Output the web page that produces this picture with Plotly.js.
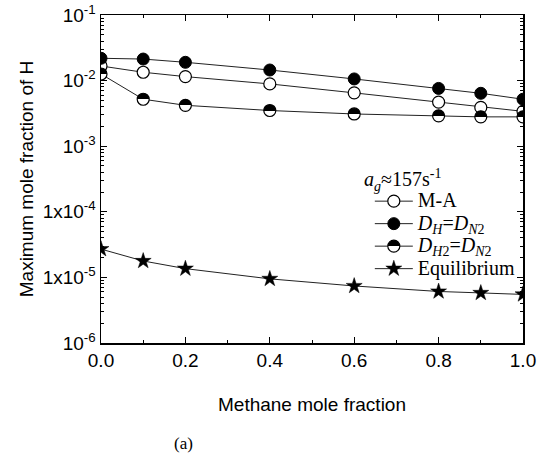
<!DOCTYPE html>
<html><head><meta charset="utf-8">
<script src="https://cdn.plot.ly/plotly-3.0.1.min.js"></script>
<style>body{margin:0;background:#fff}</style></head><body>
<div id="chart" style="width:539px;height:463px"></div>
<script>
const methaneFraction = [0, 0.1, 0.2, 0.4, 0.6, 0.8, 0.9, 1.0];
const maValues = [0.0167, 0.0134, 0.0115, 0.0089, 0.0065, 0.0047, 0.0039, 0.0034];
const dhDn2Values = [0.0219, 0.0213, 0.0190, 0.0145, 0.0106, 0.0076, 0.0064, 0.0052];
const dh2Dn2Values = [0.0126, 0.0052, 0.0042, 0.0035, 0.0031, 0.0029, 0.0028, 0.0028];
const equilibriumValues = [2.7e-5, 1.78e-5, 1.36e-5, 9.5e-6, 7.4e-6, 6.1e-6, 5.8e-6, 5.5e-6];
const seriesNames = ['M-A', '<i>D</i><sub><i>H</i></sub>=<i>D</i><sub><i>N</i>2</sub>', '<i>D</i><sub><i>H</i>2</sub>=<i>D</i><sub><i>N</i>2</sub>', 'Equilibrium'];
const legendTitle = '<i>a</i><sub><i>g</i></sub>≈157s<sup>-1</sup>';
const yTickVals = [1e-1, 1e-2, 1e-3, 1e-4, 1e-5, 1e-6];
const yTickText = ['10<sup>-1</sup>', '10<sup>-2</sup>', '10<sup>-3</sup>', '1x10<sup>-4</sup>', '1x10<sup>-5</sup>', '10<sup>-6</sup>'];
const xTickVals = [0, 0.2, 0.4, 0.6, 0.8, 1.0];

const yMinor = [];
for (let n = -6; n <= -2; n++) for (let k = 2; k <= 9; k++) yMinor.push(k * Math.pow(10, n));

const big = s => '<span style="font-size:20px">' + s + '</span>';
const lineStyle = {color: '#222', width: 1};
const traces = [
  {x: methaneFraction, y: maValues, name: big(seriesNames[0]), mode: 'lines+markers', line: lineStyle,
   marker: {symbol: 'circle', size: 12, color: '#fff', line: {color: '#000', width: 1.2}}},
  {x: methaneFraction, y: dhDn2Values, name: big(seriesNames[1]), mode: 'lines+markers', line: lineStyle,
   marker: {symbol: 'circle', size: 12, color: '#000', line: {color: '#000', width: 1}}},
  {x: methaneFraction, y: dh2Dn2Values, name: big(seriesNames[2]), mode: 'lines+markers', line: lineStyle,
   marker: {symbol: 'circle', size: 12, color: '#000', gradient: {type: 'vertical', color: '#fff'}, line: {color: '#000', width: 1.2}}},
  {x: methaneFraction, y: equilibriumValues, name: big(seriesNames[3]), mode: 'lines+markers', line: lineStyle,
   marker: {symbol: 'star', size: 12, color: '#000', line: {color: '#000', width: 0.5}}}
];

const axisFont = {family: 'Liberation Sans, Arial, sans-serif', size: 19, color: '#000'};
const serif = 'Liberation Serif, Times New Roman, serif';
const layout = {
  width: 539, height: 463,
  margin: {l: 101, r: 16, t: 15, b: 120},
  paper_bgcolor: '#fff', plot_bgcolor: '#fff',
  font: axisFont,
  showlegend: true,
  legend: {
    x: 0.637, y: 0.482, xanchor: 'left', yanchor: 'top',
    bgcolor: 'rgba(0,0,0,0)', borderwidth: 0,
    font: {family: serif, size: 15, color: '#000'},
    tracegroupgap: 0, itemwidth: 38
  },
  xaxis: {
    range: [0, 1], tickvals: xTickVals, tickformat: '.1f',
    ticks: 'inside', ticklen: 6, tickwidth: 1, tickcolor: '#000',
    showline: true, linecolor: '#000', linewidth: 1.5, mirror: 'ticks',
    showgrid: false, zeroline: false, tickfont: axisFont,
    minor: {dtick: 0.1, ticks: 'inside', ticklen: 3, tickcolor: '#000', showgrid: false},
    title: {text: 'Methane mole fraction', font: axisFont, standoff: 27}
  },
  yaxis: {
    type: 'log', range: [-6, -1], tickmode: 'array', tickvals: yTickVals, ticktext: yTickText,
    ticks: 'inside', ticklen: 6, tickwidth: 1, tickcolor: '#000',
    showline: true, linecolor: '#000', linewidth: 1.5, mirror: 'ticks',
    showgrid: false, zeroline: false, tickfont: axisFont,
    minor: {tickmode: 'array', tickvals: yMinor, ticks: 'inside', ticklen: 3, tickcolor: '#000', showgrid: false},
    title: {text: 'Maximum mole fraction of H', font: axisFont, standoff: 4}
  },
  annotations: [
    {text: legendTitle, xref: 'paper', yref: 'paper', x: (362 - 101) / 422, y: (343 - 180) / 328,
     xanchor: 'left', yanchor: 'middle', showarrow: false,
     font: {family: serif, size: 20, color: '#000'}},
    {text: '(a)', xref: 'paper', yref: 'paper', x: (183 - 101) / 422, y: -(443 - 343) / 328,
     xanchor: 'center', yanchor: 'middle', showarrow: false,
     font: {family: serif, size: 17, color: '#000'}}
  ]
};

Plotly.newPlot('chart', traces, layout, {displayModeBar: false, staticPlot: true}).then(function () {
  const ns = 'http://www.w3.org/2000/svg';
  document.querySelectorAll('#chart linearGradient').forEach(function (g) {
    g.setAttribute('x1', '0'); g.setAttribute('x2', '0');
    g.setAttribute('y1', '0'); g.setAttribute('y2', '1');
    while (g.firstChild) g.removeChild(g.firstChild);
    [[0, '#000'], [0.5, '#000'], [0.5, '#fff'], [1, '#fff']].forEach(function (s) {
      const st = document.createElementNS(ns, 'stop');
      st.setAttribute('offset', s[0]);
      st.setAttribute('stop-color', s[1]);
      st.setAttribute('stop-opacity', '1');
      g.appendChild(st);
    });
  });
});
</script>
</body></html>
